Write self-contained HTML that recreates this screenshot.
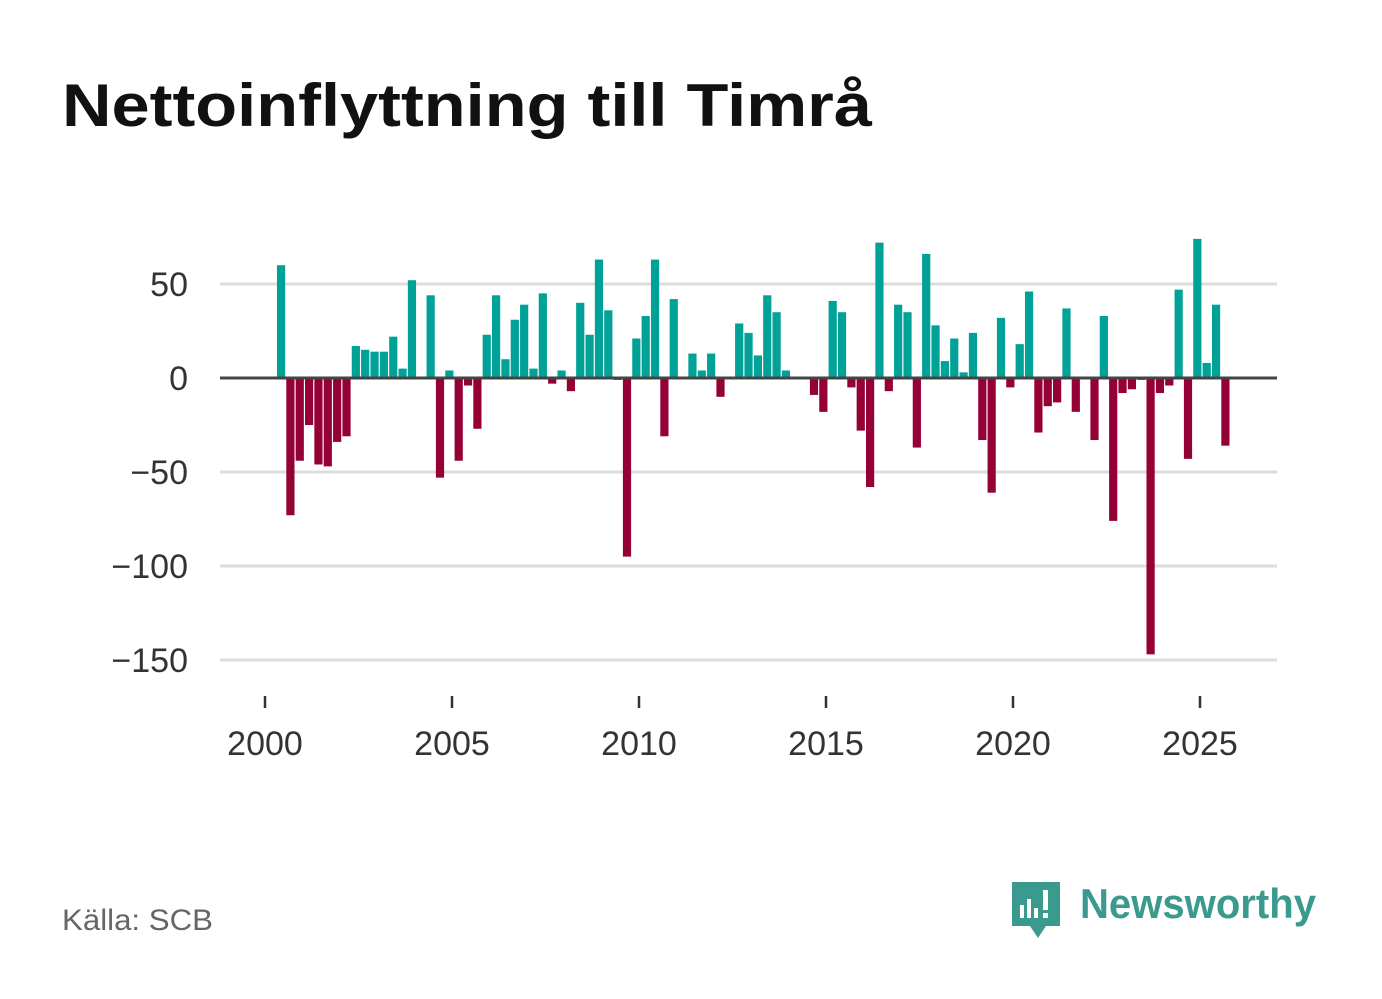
<!DOCTYPE html>
<html><head><meta charset="utf-8"><style>
body{margin:0;background:#fff;}
svg{display:block;font-family:"Liberation Sans","DejaVu Sans",sans-serif;}
</style></head><body>
<svg width="1382" height="999" viewBox="0 0 1382 999">
<text x="62" y="126" font-size="60" font-weight="bold" fill="#111" textLength="810" lengthAdjust="spacingAndGlyphs">Nettoinflyttning till Timrå</text>
<g id="grid"></g>
<g id="bars"></g>
<g id="axes"></g>
<text x="62" y="930" font-size="30" fill="#666" textLength="151" lengthAdjust="spacingAndGlyphs">Källa: SCB</text>
<g>
<path d="M1012 882 h48 v44 h-14 l-8 12 l-8 -12 h-18 z" fill="#3a9a8e"/>
<rect x="1020" y="905" width="4" height="13" fill="#fff"/><rect x="1027" y="899" width="4" height="19" fill="#fff"/><rect x="1034" y="908" width="4" height="10" fill="#fff"/><rect x="1043" y="890" width="5" height="20" fill="#fff"/><rect x="1043" y="913" width="5" height="5" fill="#fff"/>
<text x="1080" y="918" font-size="42" font-weight="bold" fill="#3a9a8e" textLength="236" lengthAdjust="spacingAndGlyphs">Newsworthy</text>
</g>
</svg>
<script>
const values=[60,-73,-44,-25,-46,-47,-34,-31,17,15,14,14,22,5,52,0,44,-53,4,-44,-4,-27,23,44,10,31,39,5,45,-3,4,-7,40,23,63,36,-1,-95,21,33,63,-31,42,0,13,4,13,-10,0,29,24,12,44,35,4,0,0,-9,-18,41,35,-5,-28,-58,72,-7,39,35,-37,66,28,9,21,3,24,-33,-61,32,-5,18,46,-29,-15,-13,37,-18,0,-33,33,-76,-8,-6,-1,-147,-8,-4,47,-43,74,8,39,-36];
const startYear=2000.25;
const yTicks=[50,0,-50,-100,-150];
const xTicks=[2000,2005,2010,2015,2020,2025];
const NS='http://www.w3.org/2000/svg';
function xs(t){return 265+(t-2000)*37.4;}
function ys(v){return 378-v*1.88;}
function mk(tag,attrs,parent){const e=document.createElementNS(NS,tag);for(const k in attrs)e.setAttribute(k,attrs[k]);document.getElementById(parent).appendChild(e);return e;}
yTicks.forEach(v=>{
  if(v!==0){const l=mk('line',{x1:220,x2:1277,y1:ys(v),y2:ys(v),stroke:'#ddd','stroke-width':3},'grid');
  
  }
  const t=mk('text',{x:188,y:ys(v)+12,'font-size':34,fill:'#333','text-anchor':'end'},'axes');
  t.textContent=v<0?'\u2212'+Math.abs(v):String(v);
  
  
});
values.forEach((v,i)=>{
  const d=startYear+i*0.25;
  const r=mk('rect',{x:xs(d)+2.6,width:8.2,y:Math.min(ys(v),ys(0)),height:Math.abs(ys(v)-ys(0)),fill:v>=0?'#00a297':'#950037'},'bars');
  
  
});
const z=mk('line',{x1:220,x2:1277,y1:ys(0),y2:ys(0),stroke:'#444','stroke-width':3},'axes');


xTicks.forEach(y=>{
  const l=mk('line',{x1:xs(y),x2:xs(y),y1:696,y2:708,stroke:'#333','stroke-width':2.5},'axes');
  
  
  const t=mk('text',{x:xs(y),y:755,'font-size':34,fill:'#333','text-anchor':'middle'},'axes');
  t.textContent=String(y);
  
  
});
</script>
</body></html>
